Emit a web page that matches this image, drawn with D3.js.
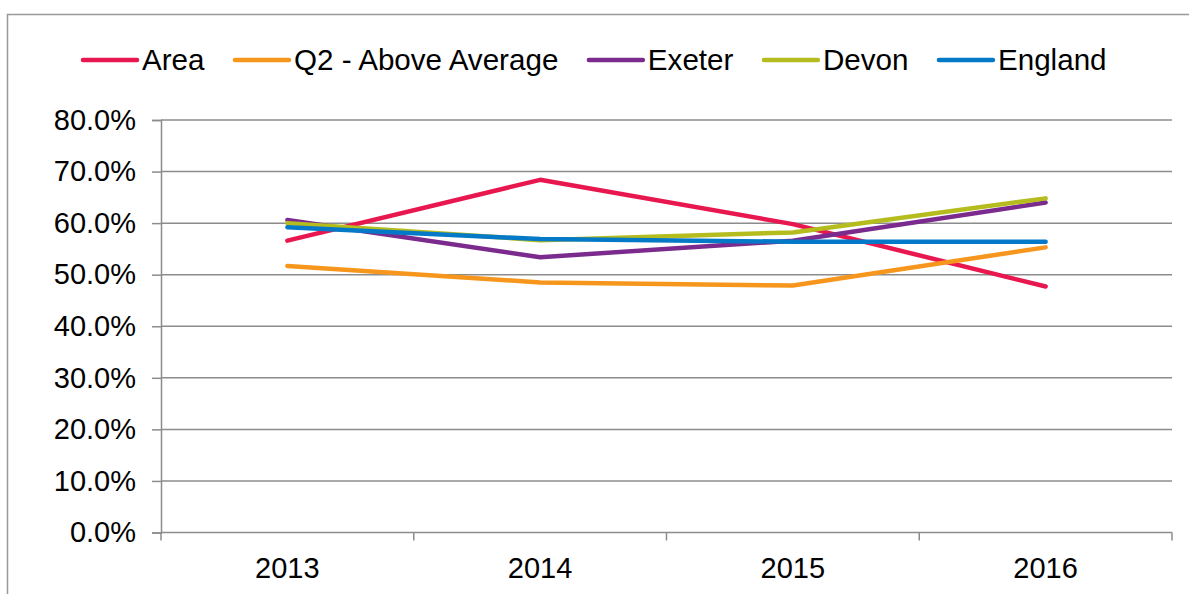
<!DOCTYPE html>
<html>
<head>
<meta charset="utf-8">
<script src="https://cdn.jsdelivr.net/npm/d3@7"></script>
<style>
  body { margin: 0; background: #fff; }
  text { font-family: "Liberation Sans", Arial, sans-serif; fill: #000; }
</style>
</head>
<body>
<div id="chart"></div>
<script>
const years = ["2013", "2014", "2015", "2016"];
const seriesNames = ["Area", "Q2 - Above Average", "Exeter", "Devon", "England"];
const area = [0.566, 0.684, 0.598, 0.477];
const q2 = [0.517, 0.485, 0.479, 0.553];
const exeter = [0.606, 0.534, 0.566, 0.640];
const devon = [0.600, 0.567, 0.582, 0.648];
const england = [0.592, 0.569, 0.564, 0.564];
const colors = ["#e8174f", "#f7961d", "#7b2a8e", "#b4bc1e", "#0479c7"];
const yTicks = [0, 0.1, 0.2, 0.3, 0.4, 0.5, 0.6, 0.7, 0.8];

(function () {
  const width = 1189, height = 594;
  const plotLeft = 161, plotRight = 1172, plotTop = 120, plotBottom = 532.5;
  const gridColor = "#8c8c8c";

  const svg = d3.select("#chart").append("svg")
    .attr("width", width).attr("height", height);

  // outer frame
  svg.append("rect")
    .attr("x", 7.5).attr("y", 14.5)
    .attr("width", 1200).attr("height", 600)
    .attr("fill", "none").attr("stroke", "#999").attr("stroke-width", 1.5);

  const x = d3.scaleBand().domain(years).range([plotLeft, plotRight]).padding(0);
  const y = d3.scaleLinear().domain([0, 0.8]).range([plotBottom, plotTop]);

  // gridlines
  svg.append("g").selectAll("line").data(yTicks.slice(1)).join("line")
    .attr("x1", plotLeft).attr("x2", plotRight)
    .attr("y1", d => y(d)).attr("y2", d => y(d))
    .attr("stroke", gridColor).attr("stroke-width", 1.5);

  // y axis
  const yAxis = svg.append("g")
    .attr("transform", `translate(${plotLeft},0)`)
    .call(d3.axisLeft(y).tickValues(yTicks).tickFormat(d3.format(".1%")).tickSize(9).tickPadding(16));
  yAxis.selectAll("line, path").attr("stroke", gridColor).attr("stroke-width", 1.5);
  yAxis.selectAll("text").style("font-size", "29px").style("font-family", "Liberation Sans, Arial, sans-serif").attr("fill", "#000");

  // x axis
  const xAxis = svg.append("g");
  xAxis.append("line")
    .attr("x1", plotLeft).attr("x2", plotRight)
    .attr("y1", plotBottom).attr("y2", plotBottom)
    .attr("stroke", gridColor).attr("stroke-width", 1.5);
  const bounds = years.map(d => x(d)).concat([plotRight]);
  xAxis.selectAll(".tick").data(bounds).join("line")
    .attr("class", "tick")
    .attr("x1", d => d).attr("x2", d => d)
    .attr("y1", plotBottom).attr("y2", plotBottom + 8)
    .attr("stroke", gridColor).attr("stroke-width", 1.5);
  xAxis.selectAll(".lbl").data(years).join("text")
    .attr("class", "lbl")
    .attr("x", d => x(d) + x.bandwidth() / 2)
    .attr("y", plotBottom + 45)
    .attr("text-anchor", "middle")
    .style("font-size", "29px")
    .text(d => d);

  // lines
  const allSeries = [area, q2, exeter, devon, england];
  const line = d3.line()
    .x((d, i) => x(years[i]) + x.bandwidth() / 2)
    .y(d => y(d));

  svg.append("g").selectAll("path").data(allSeries).join("path")
    .attr("d", line)
    .attr("fill", "none")
    .attr("stroke", (d, i) => colors[i])
    .attr("stroke-width", 4.5)
    .attr("stroke-linejoin", "round")
    .attr("stroke-linecap", "round");

  // legend
  const legend = svg.append("g");
  let lx = 83;
  const ly = 60;
  seriesNames.forEach((name, i) => {
    legend.append("line")
      .attr("x1", lx).attr("x2", lx + 54)
      .attr("y1", ly).attr("y2", ly)
      .attr("stroke", colors[i]).attr("stroke-width", 4.5)
      .attr("stroke-linecap", "round");
    const t = legend.append("text")
      .attr("x", lx + 59).attr("y", ly + 10)
      .style("font-size", "29.6px")
      .text(name);
    lx += 59 + t.node().getComputedTextLength() + 30.5;
  });
})();
</script>
</body>
</html>
